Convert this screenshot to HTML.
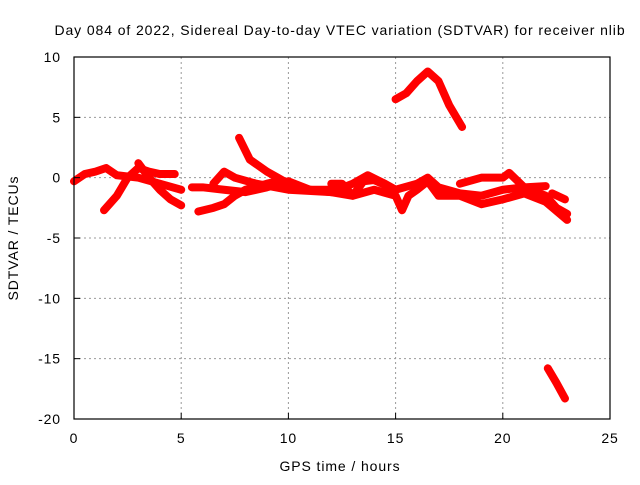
<!DOCTYPE html>
<html><head><meta charset="utf-8"><style>
body{margin:0;background:#fff}
svg text{font-family:"Liberation Sans",sans-serif;font-size:14px;letter-spacing:0.9px;fill:#000}
</style></head><body>
<svg id="c" width="640" height="480">
<text x="340" y="35" text-anchor="middle">Day 084 of 2022, Sidereal Day-to-day VTEC variation (SDTVAR) for receiver nlib</text>
<text x="340" y="471" text-anchor="middle">GPS time / hours</text>
<text transform="translate(18,238) rotate(-90)" text-anchor="middle">SDTVAR / TECUs</text>
<g id="grid"></g><g id="series"></g>
<rect x="74" y="57" width="536" height="362" fill="none" stroke="#000" stroke-width="1.2"/>
<g id="ticks"></g>
</svg>
<script>
const xTicks=[0,5,10,15,20,25];
const yTicks=[10,5,0,-5,-10,-15,-20];
const trackA=[[15.0,6.5],[15.5,7],[16,8],[16.5,8.8],[17,8],[17.5,6],[18.1,4.2]];
const trackB=[[22.1,-15.8],[22.5,-17],[22.9,-18.3]];
const trackC=[[7.7,3.3],[8.2,1.5],[9,0.5],[9.5,0],[10,-0.5],[11,-1],[12,-1]];
const trackD=[[0,-0.3],[0.5,0.3],[1,0.5],[1.5,0.8],[2,0.2],[3,0],[4,-0.5],[5,-1]];
const trackE=[[1.4,-2.7],[2,-1.5],[2.5,0],[3,0.8],[3.5,0.5],[4,0.3],[4.7,0.3]];
const trackF=[[3,1.2],[3.5,0],[4,-1],[4.5,-1.8],[5,-2.3]];
const trackG=[[5.5,-0.8],[6,-0.8],[7,-1],[8,-1.2],[9,-0.8],[10,-0.3],[11,-1],[12,-1.2],[13,-0.5],[13.7,0.2],[14.5,-0.5],[15,-1],[16,-0.5],[16.5,0],[17,-0.8],[18,-1.3],[19,-1.5],[20,-1],[21,-0.8],[22,-1.5],[22.5,-2.5],[23,-3]];
const trackH=[[5.8,-2.8],[6.5,-2.5],[7,-2.2],[7.5,-1.5],[8,-1.0],[9,-0.5],[9.5,-0.3]];
const trackI=[[6.5,-0.5],[7,0.5],[7.5,0],[8.5,-0.5],[10,-1],[12,-1.2],[13,-1.5],[14,-1],[15,-1.5],[15.3,-2.7],[15.6,-1.5],[16,-1],[16.5,-0.3],[17,-1.5],[18,-1.5],[19,-2.2],[20,-1.8],[21,-1.3],[22,-2],[23,-3.5]];
const trackJ=[[18,-0.5],[19,0],[20,0],[20.3,0.4],[21,-0.8],[22,-0.7]];
const trackK=[[22.3,-1.3],[22.9,-1.8]];
const trackL=[[12,-0.5],[12.5,-0.5],[13,-1.5],[13.5,-0.3],[14,-0.2],[15,-1]];
const tracks=[trackA,trackB,trackC,trackD,trackE,trackF,trackG,trackH,trackI,trackJ,trackK,trackL];
const X=v=>74+v/25*536, Y=v=>57+(10-v)/30*362;
const NS="http://www.w3.org/2000/svg";
const grid=document.getElementById('grid'),ticks=document.getElementById('ticks'),ser=document.getElementById('series');
function mk(tag,at,parent){const e=document.createElementNS(NS,tag);for(const k in at)e.setAttribute(k,at[k]);parent.appendChild(e);return e;}
xTicks.forEach(t=>{
 if(t>0&&t<25){const l=mk('line',{x1:X(t),x2:X(t),y1:57,y2:419,stroke:'#999','stroke-dasharray':'2,3'},grid);
 
 }
 const k=mk('line',{x1:X(t),x2:X(t),y1:419,y2:413,stroke:'#000'},ticks);
 
 
 const tx=mk('text',{x:X(t),y:443,'text-anchor':'middle'},ticks);tx.textContent=t;
 
 
});
yTicks.forEach(t=>{
 if(t<10&&t>-20){const l=mk('line',{x1:74,x2:610,y1:Y(t),y2:Y(t),stroke:'#999','stroke-dasharray':'2,3'},grid);
 
 }
 const k=mk('line',{x1:74,x2:80,y1:Y(t),y2:Y(t),stroke:'#000'},ticks);
 
 
 const tx=mk('text',{x:61,y:Y(t)+5,'text-anchor':'end'},ticks);tx.textContent=t;
 
 
});
tracks.forEach(tr=>{
 const p=mk('polyline',{points:tr.map(d=>X(d[0])+','+Y(d[1])).join(' '),fill:'none',stroke:'#f00','stroke-width':8,'stroke-linejoin':'round','stroke-linecap':'round'},ser);
 
 
});
</script>
</body></html>
